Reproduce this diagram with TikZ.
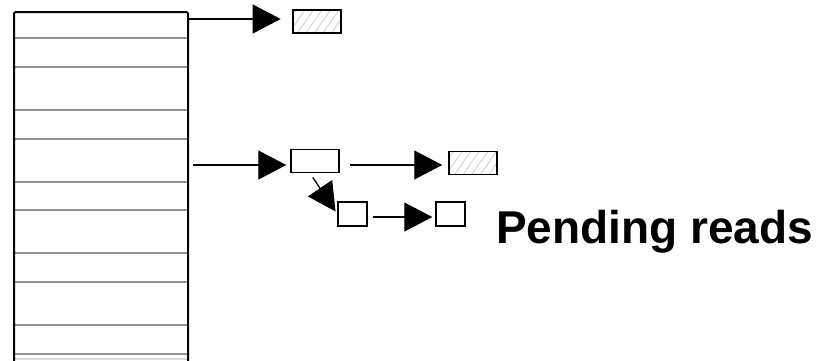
\documentclass[tikz,border=0pt]{standalone}
\usepackage{fontspec}
\setmainfont{Liberation Sans}
\usetikzlibrary{arrows.meta,patterns.meta}
\begin{document}
\begin{tikzpicture}[x=1pt,y=-1pt,
  ptr/.style={line width=1.3pt,-{Triangle[length=28pt,width=29pt]}},
  cellbox/.style={draw,line width=1.5pt,minimum width=48pt,minimum height=23pt,inner sep=0pt},
  smallbox/.style={draw,line width=1.5pt,minimum width=29pt,minimum height=24pt,inner sep=0pt},
  hatched/.style={pattern={Lines[angle=55,distance=7pt,line width=0.7pt]},pattern color=gray!45},
  rowline/.style={draw=gray!85,line width=2pt}]
\useasboundingbox (0,0) rectangle (831,360);
\clip (0,0) rectangle (831,360);

% hash table column
\foreach \y in {38,67,110,139,182,210,253,282,325,354}
  \path[rowline] (15,\y) -- (187,\y);
\path[draw=gray!30,line width=1.5pt] (15,359) -- (187,359);
\draw[line width=2pt,rounded corners=2pt] (14,365) -- (14,12) -- (188,12) -- (188,365);

% buckets
\node[cellbox,hatched] (h1) at (317,21.5) {};
\node[cellbox] (a) at (315,161) {};
\node[cellbox,hatched] (h2) at (473,163) {};
\node[smallbox] (b) at (352.5,214) {};
\node[smallbox] (c) at (450.5,214) {};

% pointer origins
\coordinate (r1) at (188,19);
\coordinate (r2) at (193,165);
\coordinate (r3) at (373,217);

\draw[ptr,shorten >=12pt] (r1) -- (r1 -| h1.west);
\draw[ptr,shorten >=4pt] (r2) -- (r2 -| a.west);
\draw[ptr,shorten <=10pt,shorten >=6pt] (a.east |- r2) -- (h2.west |- r2);
\draw[ptr,shorten <=5pt,shorten >=3pt] ([xshift=-5pt]a.south) -- (b.west);
\draw[ptr,shorten >=3pt] (r3) -- (r3 -| c.west);

\node[anchor=base west,inner sep=0pt,font=\bfseries\fontsize{46}{46}\selectfont] (lbl) at (496,243) {Pending reads};
\end{tikzpicture}
\end{document}
